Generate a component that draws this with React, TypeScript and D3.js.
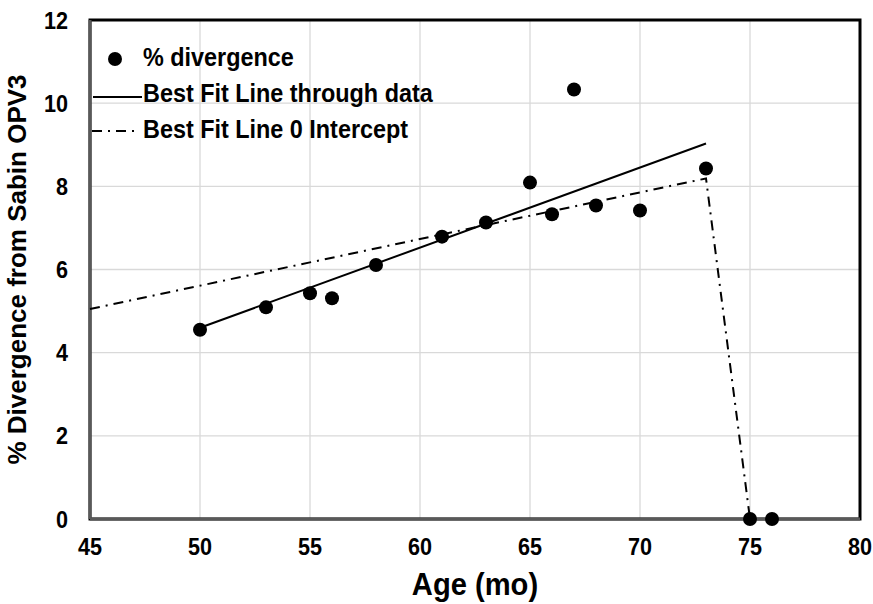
import React from 'react';
import * as d3 from 'd3';

// measured data (age in months, % divergence)
const ages = [50, 53, 55, 56, 58, 61, 63, 65, 66, 67, 68, 70, 73, 75, 76];
const divergence = [4.55, 5.09, 5.43, 5.31, 6.11, 6.79, 7.13, 8.09, 7.33, 10.33, 7.54, 7.42, 8.43, 0, 0];

// best fit through data
const fitAges = [50, 73];
const fitValues = [4.6, 9.03];

// best fit with 0 intercept (drops to the zero points at 75)
const zeroFitAges = [45, 73, 75];
const zeroFitValues = [5.05, 8.19, 0];

const xTicks = [45, 50, 55, 60, 65, 70, 75, 80];
const yTicks = [0, 2, 4, 6, 8, 10, 12];

const legendLabels = ['% divergence', 'Best Fit Line through data', 'Best Fit Line 0 Intercept'];

const W = 873;
const H = 604;
const margin = { top: 20, right: 13, bottom: 85, left: 90 };
const FONT = "'Liberation Sans', Arial, sans-serif";
const DASH = '10,6,2,6';

const App = () => {
  const innerW = W - margin.left - margin.right;
  const innerH = H - margin.top - margin.bottom;

  const x = d3.scaleLinear().domain([45, 80]).range([0, innerW]);
  const y = d3.scaleLinear().domain([0, 12]).range([innerH, 0]);

  const line = d3
    .line<[number, number]>()
    .x((d) => x(d[0]))
    .y((d) => y(d[1]));

  const fitPath = line(fitAges.map((a, i) => [a, fitValues[i]]));
  const zeroPath = line(zeroFitAges.map((a, i) => [a, zeroFitValues[i]]));

  const txt = (
    key: string,
    tx: number,
    ty: number,
    label: string,
    size: number,
    anchor: string,
    sx = 0.9,
    rot = 0
  ) => (
    <g key={key} transform={`translate(${tx},${ty}) rotate(${rot}) scale(${sx},1)`}>
      <text
        textAnchor={anchor}
        fontFamily={FONT}
        fontWeight="bold"
        fontSize={size}
        fill="#000"
      >
        {label}
      </text>
    </g>
  );

  return (
    <svg
      width={W}
      height={H}
      style={{ position: 'absolute', left: 0, top: 0, background: '#fff' }}
    >
      <rect width={W} height={H} fill="#fff" />
      <g transform={`translate(${margin.left},${margin.top})`}>
        {/* grid */}
        {xTicks.map((t) => (
          <line key={'gx' + t} x1={x(t)} x2={x(t)} y1={0} y2={innerH} stroke="#d9d9d9" strokeWidth={1.3} />
        ))}
        {yTicks.map((t) => (
          <line key={'gy' + t} x1={0} x2={innerW} y1={y(t)} y2={y(t)} stroke="#d9d9d9" strokeWidth={1.3} />
        ))}

        {/* frame */}
        <rect x={0} y={0} width={innerW} height={innerH} fill="none" stroke="#000" strokeWidth={3} />
        <line x1={0} x2={0} y1={0} y2={innerH} stroke="#595959" strokeWidth={3} />
        <line x1={0} x2={innerW} y1={innerH} y2={innerH} stroke="#595959" strokeWidth={3} />

        {/* lines */}
        <path d={fitPath ?? ''} fill="none" stroke="#000" strokeWidth={2} />
        <path d={zeroPath ?? ''} fill="none" stroke="#000" strokeWidth={2} strokeDasharray={DASH} />

        {/* points */}
        {ages.map((a, i) => (
          <circle key={'p' + i} cx={x(a)} cy={y(divergence[i])} r={7} fill="#000" />
        ))}

        {/* tick labels */}
        {xTicks.map((t) => txt('xt' + t, x(t), innerH + 36, String(t), 24, 'middle'))}
        {yTicks.map((t) => txt('yt' + t, -22, y(t) + 8.5, String(t), 24, 'end'))}
      </g>

      {/* axis titles */}
      {txt('xtitle', margin.left + innerW / 2, 595, 'Age (mo)', 31, 'middle', 0.94)}
      {txt('ytitle', 26, margin.top + innerH / 2, '% Divergence from Sabin OPV3', 26, 'middle', 1, -90)}

      {/* legend */}
      <circle cx={115} cy={59} r={7} fill="#000" />
      {txt('l0', 143, 66, legendLabels[0], 26, 'start')}
      <line x1={93} x2={142} y1={97} y2={97} stroke="#000" strokeWidth={2} />
      {txt('l1', 143, 102, legendLabels[1], 26, 'start')}
      <line x1={92} x2={137} y1={131} y2={131} stroke="#000" strokeWidth={2} strokeDasharray={DASH} />
      {txt('l2', 143, 138, legendLabels[2], 26, 'start')}
    </svg>
  );
};

export default App;
